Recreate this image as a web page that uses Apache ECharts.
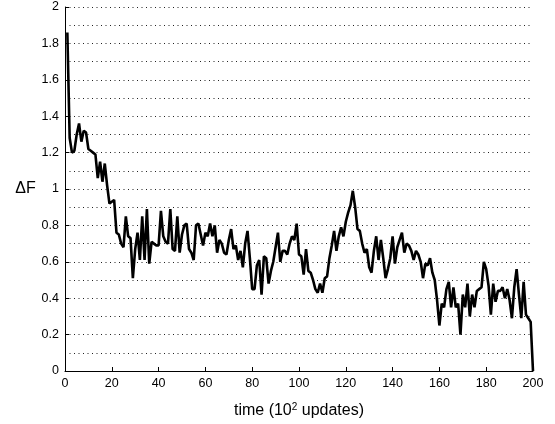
<!DOCTYPE html>
<html style="height: 100%">
<head>
    <meta charset="utf-8">
    <title>ΔF over time</title>
    <script src="https://cdn.jsdelivr.net/npm/echarts@6/dist/echarts.min.js"></script>
</head>
<body style="height: 100%; margin: 0; background: #fff">
    <div id="main" style="width: 555px; height: 424px"></div>
    <script>
        // time steps (10^2 updates) and ΔF values
        var times = [];
        for (var i = 1; i <= 200; i++) times.push(i);

        var deltaF = [
            1.86, 1.28, 1.20, 1.21, 1.30, 1.36, 1.26, 1.32, 1.31, 1.22,
            1.21, 1.20, 1.19, 1.06, 1.15, 1.04, 1.14, 1.02, 0.92, 0.93,
            0.94, 0.76, 0.75, 0.70, 0.68, 0.85, 0.74, 0.73, 0.51, 0.67,
            0.76, 0.61, 0.85, 0.61, 0.89, 0.59, 0.71, 0.70, 0.69, 0.69,
            0.88, 0.74, 0.71, 0.70, 0.89, 0.67, 0.66, 0.85, 0.65, 0.75,
            0.80, 0.81, 0.67, 0.65, 0.61, 0.80, 0.81, 0.75, 0.69, 0.76,
            0.74, 0.81, 0.74, 0.80, 0.65, 0.72, 0.70, 0.65, 0.64, 0.72,
            0.78, 0.67, 0.69, 0.61, 0.66, 0.57, 0.70, 0.77, 0.62, 0.45,
            0.45, 0.58, 0.61, 0.42, 0.63, 0.62, 0.48, 0.55, 0.60, 0.68,
            0.76, 0.60, 0.66, 0.66, 0.64, 0.70, 0.74, 0.72, 0.81, 0.64,
            0.63, 0.53, 0.67, 0.55, 0.54, 0.50, 0.45, 0.43, 0.48, 0.43,
            0.51, 0.52, 0.62, 0.69, 0.77, 0.66, 0.74, 0.79, 0.74, 0.82,
            0.87, 0.91, 0.99, 0.90, 0.78, 0.77, 0.70, 0.65, 0.67, 0.57,
            0.54, 0.66, 0.74, 0.61, 0.72, 0.62, 0.51, 0.56, 0.62, 0.74,
            0.59, 0.68, 0.72, 0.76, 0.65, 0.70, 0.69, 0.66, 0.61, 0.66,
            0.64, 0.60, 0.51, 0.59, 0.58, 0.62, 0.54, 0.50, 0.39, 0.25,
            0.37, 0.35, 0.45, 0.49, 0.35, 0.46, 0.35, 0.37, 0.20, 0.42,
            0.35, 0.48, 0.30, 0.42, 0.35, 0.44, 0.45, 0.46, 0.60, 0.56,
            0.47, 0.31, 0.48, 0.38, 0.44, 0.44, 0.46, 0.40, 0.45, 0.39,
            0.29, 0.46, 0.56, 0.42, 0.29, 0.49, 0.31, 0.29, 0.27, 0.00
        ];

        var xTicks = [0, 20, 40, 60, 80, 100, 120, 140, 160, 180, 200];
        var yTicks = [0, 0.2, 0.4, 0.6, 0.8, 1, 1.2, 1.4, 1.6, 1.8, 2];

        var chart = echarts.init(document.getElementById('main'));
        var font = 'Liberation Sans, Arial, sans-serif';

        chart.setOption({
            animation: false,
            grid: { left: 65, right: 22, top: 7, bottom: 47 },
            xAxis: {
                type: 'value',
                min: xTicks[0],
                max: xTicks[xTicks.length - 1],
                interval: 20,
                name: '{t|time (10}{s|2}{t| updates)}',
                nameLocation: 'middle',
                nameGap: 31,
                nameTextStyle: {
                    rich: {
                        t: { fontSize: 16, fontFamily: font, color: '#000' },
                        s: { fontSize: 10, fontFamily: font, color: '#000', verticalAlign: 'top', padding: [0, 0, 8, 0] }
                    }
                },
                axisLine: { lineStyle: { color: '#000', width: 1 } },
                axisTick: { inside: true, length: 4, lineStyle: { color: '#000' } },
                axisLabel: { color: '#000', fontSize: 12.5, fontFamily: font, margin: 6 },
                splitLine: { show: false }
            },
            yAxis: {
                type: 'value',
                min: yTicks[0],
                max: yTicks[yTicks.length - 1],
                interval: 0.2,
                name: 'ΔF',
                nameLocation: 'middle',
                nameRotate: 0,
                nameGap: 28,
                nameTextStyle: { fontSize: 16, fontFamily: font, color: '#000', padding: [0, 0, 8, 0] },
                axisLine: { show: true, lineStyle: { color: '#000', width: 1 } },
                axisTick: { show: true, inside: true, length: 4, lineStyle: { color: '#000' } },
                axisLabel: {
                    color: '#000', fontSize: 12.5, fontFamily: font, margin: 6,
                    formatter: function (v) { return String(Math.round(v * 10) / 10); }
                },
                splitLine: { show: true, lineStyle: { color: '#222', type: [1, 3.5], width: 1 } },
                minorTick: { show: false, splitNumber: 2 },
                minorSplitLine: { show: true, lineStyle: { color: '#222', type: [1, 3.5], width: 1 } }
            },
            series: [{
                type: 'line',
                data: times.map(function (t, i) { return [t, deltaF[i]]; }),
                showSymbol: false,
                lineStyle: { color: '#000', width: 2.6 },
                z: 5
            }]
        });
    </script>
</body>
</html>
